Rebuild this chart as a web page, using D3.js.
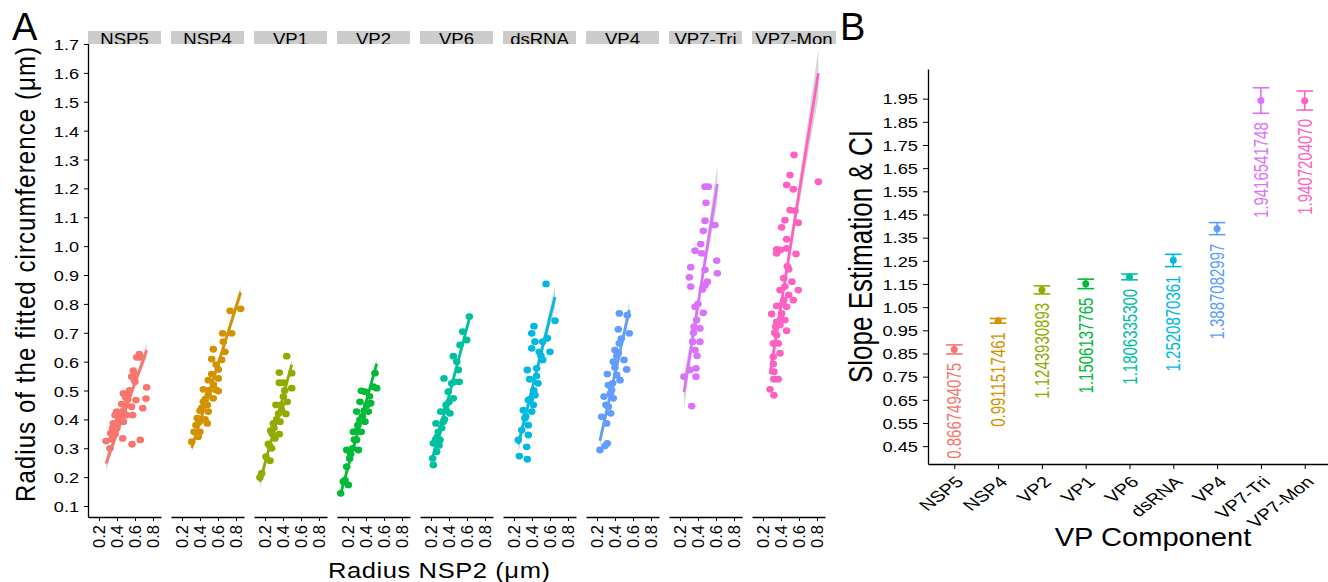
<!DOCTYPE html>
<html>
<head>
<meta charset="utf-8">
<title>Radius fits and slopes</title>
<script src="https://cdn.jsdelivr.net/npm/d3@7"></script>
<style>
  body { margin: 0; background: white; }
  svg { font-family: "Liberation Sans", Arial, sans-serif; }
</style>
</head>
<body>
<svg id="chart" width="1328" height="582"></svg>
<script>
// ---- data ----
const panels = ["NSP5", "NSP4", "VP1", "VP2", "VP6", "dsRNA", "VP4", "VP7-Tri", "VP7-Mon"];
const hue = ["#F8766D", "#D39200", "#93AA00", "#00BA38", "#00C19F", "#00B9E3", "#619CFF", "#DB72FB", "#FF61C3"];

const ptsNSP5 = [[0.648,0.626],[0.656,0.615],[0.619,0.615],[0.581,0.569],[0.600,0.557],[0.563,0.548],[0.589,0.539],[0.730,0.511],[0.722,0.472],[0.686,0.439],[0.471,0.490],[0.515,0.484],[0.497,0.476],[0.611,0.467],[0.452,0.453],[0.563,0.444],[0.397,0.427],[0.471,0.430],[0.378,0.415],[0.433,0.409],[0.574,0.415],[0.508,0.415],[0.359,0.386],[0.415,0.392],[0.471,0.392],[0.352,0.369],[0.397,0.369],[0.330,0.352],[0.378,0.349],[0.463,0.334],[0.278,0.325],[0.341,0.331],[0.567,0.314],[0.659,0.329],[0.322,0.300],[0.50,0.45],[0.42,0.40],[0.54,0.50],[0.45,0.41],[0.39,0.37],[0.60,0.53],[0.52,0.47]];
const ptsNSP4 = [[0.734,0.776],[0.852,0.783],[0.652,0.698],[0.752,0.698],[0.659,0.669],[0.548,0.643],[0.678,0.634],[0.530,0.609],[0.641,0.606],[0.604,0.573],[0.530,0.557],[0.604,0.542],[0.492,0.536],[0.437,0.504],[0.578,0.502],[0.492,0.484],[0.548,0.473],[0.437,0.461],[0.481,0.450],[0.400,0.430],[0.492,0.427],[0.370,0.404],[0.456,0.400],[0.356,0.380],[0.481,0.386],[0.333,0.357],[0.400,0.357],[0.308,0.323],[0.381,0.340],[0.604,0.498],[0.50,0.50],[0.55,0.52],[0.42,0.44],[0.58,0.59],[0.46,0.47],[0.39,0.39]];
const ptsVP1 = [[0.441,0.619],[0.359,0.562],[0.497,0.560],[0.359,0.527],[0.404,0.527],[0.497,0.508],[0.404,0.479],[0.448,0.461],[0.322,0.450],[0.385,0.432],[0.433,0.419],[0.293,0.386],[0.367,0.392],[0.263,0.361],[0.359,0.349],[0.311,0.334],[0.237,0.315],[0.274,0.300],[0.211,0.271],[0.256,0.257],[0.144,0.199],[0.163,0.213],[0.28,0.35],[0.33,0.40],[0.30,0.37],[0.38,0.45],[0.25,0.31],[0.42,0.50],[0.35,0.42]];
const ptsVP2 = [[0.500,0.560],[0.519,0.508],[0.348,0.499],[0.389,0.496],[0.333,0.461],[0.452,0.456],[0.296,0.427],[0.426,0.427],[0.333,0.398],[0.389,0.392],[0.259,0.357],[0.348,0.357],[0.296,0.329],[0.186,0.294],[0.315,0.294],[0.219,0.265],[0.186,0.236],[0.148,0.184],[0.204,0.173],[0.119,0.144],[0.167,0.190],[0.481,0.513],[0.27,0.33],[0.30,0.36],[0.36,0.41],[0.41,0.45],[0.23,0.28],[0.38,0.43],[0.31,0.38],[0.44,0.48],[0.25,0.30]];
const ptsVP6 = [[0.626,0.756],[0.552,0.704],[0.597,0.675],[0.522,0.658],[0.448,0.619],[0.486,0.600],[0.504,0.571],[0.344,0.542],[0.430,0.525],[0.514,0.530],[0.392,0.496],[0.448,0.473],[0.367,0.450],[0.308,0.427],[0.411,0.421],[0.256,0.386],[0.337,0.392],[0.281,0.357],[0.226,0.317],[0.300,0.329],[0.263,0.288],[0.219,0.265],[0.226,0.242],[0.27,0.34],[0.32,0.37],[0.29,0.31],[0.35,0.40],[0.25,0.33],[0.40,0.46],[0.46,0.53],[0.37,0.43]];
const ptsDsRNA = [[0.556,0.869],[0.656,0.742],[0.422,0.723],[0.397,0.698],[0.433,0.669],[0.570,0.681],[0.519,0.669],[0.397,0.646],[0.600,0.634],[0.481,0.634],[0.519,0.606],[0.348,0.571],[0.452,0.577],[0.374,0.539],[0.467,0.525],[0.433,0.484],[0.359,0.467],[0.415,0.450],[0.304,0.432],[0.397,0.427],[0.322,0.404],[0.359,0.380],[0.286,0.363],[0.359,0.346],[0.248,0.329],[0.341,0.305],[0.259,0.273],[0.348,0.262],[0.42,0.50],[0.45,0.55],[0.38,0.47],[0.50,0.62],[0.33,0.41]];
const ptsVP4 = [[0.448,0.767],[0.537,0.761],[0.437,0.712],[0.559,0.698],[0.448,0.663],[0.400,0.640],[0.437,0.629],[0.500,0.606],[0.381,0.600],[0.530,0.573],[0.315,0.557],[0.419,0.554],[0.374,0.525],[0.456,0.536],[0.326,0.519],[0.363,0.502],[0.278,0.479],[0.381,0.473],[0.326,0.444],[0.252,0.409],[0.352,0.421],[0.307,0.386],[0.233,0.294],[0.315,0.317],[0.289,0.308],[0.40,0.58],[0.35,0.49],[0.42,0.62],[0.30,0.45],[0.47,0.68]];
const ptsVP7Tri = [[0.478,1.206],[0.515,1.206],[0.489,1.150],[0.478,1.088],[0.589,1.073],[0.459,1.053],[0.430,1.007],[0.367,0.984],[0.441,0.975],[0.608,0.950],[0.319,0.927],[0.478,0.918],[0.615,0.906],[0.304,0.892],[0.504,0.877],[0.319,0.860],[0.478,0.865],[0.367,0.790],[0.459,0.769],[0.385,0.744],[0.356,0.721],[0.422,0.715],[0.341,0.669],[0.422,0.669],[0.367,0.640],[0.311,0.571],[0.378,0.577],[0.244,0.548],[0.378,0.548],[0.330,0.446],[0.40,0.80],[0.35,0.70],[0.45,0.85],[0.39,0.62]];
const ptsVP7Mon = [[0.545,1.316],[0.500,1.246],[0.815,1.223],[0.463,1.212],[0.537,1.197],[0.500,1.125],[0.556,1.123],[0.444,1.090],[0.592,1.081],[0.407,1.065],[0.463,1.024],[0.352,0.989],[0.396,0.987],[0.463,0.992],[0.567,0.973],[0.352,0.975],[0.485,0.920],[0.430,0.889],[0.522,0.877],[0.389,0.848],[0.444,0.860],[0.592,0.848],[0.485,0.831],[0.537,0.813],[0.430,0.813],[0.352,0.793],[0.463,0.790],[0.296,0.765],[0.407,0.767],[0.352,0.738],[0.444,0.744],[0.341,0.721],[0.389,0.727],[0.463,0.707],[0.352,0.692],[0.315,0.663],[0.370,0.663],[0.389,0.629],[0.315,0.617],[0.315,0.592],[0.322,0.565],[0.322,0.539],[0.370,0.539],[0.278,0.504],[0.322,0.484],[0.40,0.75],[0.33,0.70],[0.42,0.80],[0.47,0.93]];
const panelPoints = [ptsNSP5, ptsNSP4, ptsVP1, ptsVP2, ptsVP6, ptsDsRNA, ptsVP4, ptsVP7Tri, ptsVP7Mon];

const yTicksA = [0.1,0.2,0.3,0.4,0.5,0.6,0.7,0.8,0.9,1.0,1.1,1.2,1.3,1.4,1.5,1.6,1.7];
const xTicksA = [0.2, 0.4, 0.6, 0.8];

// panel B
const slopeCats = ["NSP5", "NSP4", "VP2", "VP1", "VP6", "dsRNA", "VP4", "VP7-Tri", "VP7-Mon"];
const slopeLabels = ["0.8667494075", "0.9911517461", "1.1243930893", "1.1506137765", "1.1806335300", "1.2520870361", "1.3887082997", "1.9416541748", "1.9407204070"];
const slopeLower = [0.848, 0.981, 1.107, 1.130, 1.168, 1.225, 1.363, 1.887, 1.901];
const slopeUpper = [0.887, 1.001, 1.142, 1.171, 1.193, 1.278, 1.415, 1.997, 1.983];
const yTicksB = [0.45,0.55,0.65,0.75,0.85,0.95,1.05,1.15,1.25,1.35,1.45,1.55,1.65,1.75,1.85,1.95];

// ---- drawing ----
const svg = d3.select("#chart");

function stretchText(g, x, y, k, rot, str, size) {
  return g.append("text")
    .attr("transform", `translate(${x},${y}) scale(${k},1) rotate(${rot})`)
    .attr("font-size", size)
    .text(str);
}

// panel A layout
const aLeft = 88, aStep = 83, aWidth = 73, aTop = 43, aBottom = 517;
const yA = d3.scaleLinear().domain([0.062, 1.7035]).range([aBottom, aTop]);
const xA = d3.scaleLinear().domain([0.078, 0.889]).range([0, aWidth]);

const yAxisA = svg.append("g")
  .attr("transform", `translate(${aLeft},0)`)
  .call(d3.axisLeft(yA).tickValues(yTicksA).tickSize(4).tickSizeOuter(0).tickFormat(d3.format(".1f")))
  .attr("font-size", null).attr("font-family", null);
yAxisA.select(".domain").attr("stroke-width", 1.3);
yAxisA.selectAll(".tick text")
  .attr("x", null).attr("dy", null)
  .attr("font-size", 15.5)
  .attr("transform", "translate(-9,5.5) scale(1.17,1)");

const clip = svg.append("defs").append("clipPath").attr("id", "stripclip");
clip.append("rect").attr("x", 0).attr("y", 31).attr("width", 1328).attr("height", 13);

panels.forEach((name, i) => {
  const pts = panelPoints[i];
  const col = hue[i];
  const g = svg.append("g").attr("transform", `translate(${aLeft + i * aStep},0)`);

  // points
  g.selectAll("ellipse").data(pts).enter().append("ellipse")
    .attr("cx", d => xA(d[0]))
    .attr("cy", d => yA(d[1]))
    .attr("rx", 3.8).attr("ry", 3.4)
    .attr("fill", col);

  // linear fit: slope from panel B, through the data mean
  const n = pts.length;
  const mx = d3.mean(pts, d => d[0]);
  const my = d3.mean(pts, d => d[1]);
  const b = +slopeLabels[slopeCats.indexOf(name)];
  const a = my - b * mx;
  const sxx = d3.sum(pts, d => (d[0] - mx) ** 2);
  const s = Math.sqrt(d3.sum(pts, d => (d[1] - a - b * d[0]) ** 2) / (n - 2));
  const [x0, x1] = d3.extent(pts, d => d[0]);
  const xs = d3.range(0, 41).map(k => x0 + (x1 - x0) * k / 40);
  const band = xs.map(x => {
    const se = 0.9 * s * Math.sqrt(1 / n + (x - mx) ** 2 / sxx);
    return { x: x, lo: a + b * x - se, hi: a + b * x + se };
  });
  g.append("path").datum(band)
    .attr("d", d3.area().x(d => xA(d.x)).y0(d => yA(d.lo)).y1(d => yA(d.hi)))
    .attr("fill", "#999999").attr("opacity", 0.4);
  g.append("line")
    .attr("x1", xA(x0)).attr("y1", yA(a + b * x0))
    .attr("x2", xA(x1)).attr("y2", yA(a + b * x1))
    .attr("stroke", col).attr("stroke-width", 2.8);

  // x axis
  const ax = g.append("g")
    .attr("transform", `translate(0,${aBottom})`)
    .call(d3.axisBottom(xA).tickValues(xTicksA).tickSize(4).tickSizeOuter(0).tickFormat(d3.format(".1f")))
    .attr("font-size", null).attr("font-family", null);
  ax.select(".domain").attr("stroke-width", 1.3);
  ax.selectAll(".tick text")
    .attr("y", null).attr("dy", null)
    .attr("font-size", 16.5)
    .attr("text-anchor", "end")
    .attr("transform", "translate(5.8,8) rotate(-90)");

  // strip
  const sw = i === panels.length - 1 ? 84 : aWidth;
  g.append("rect").attr("x", 0).attr("y", 31).attr("width", sw).attr("height", 13).attr("fill", "#CCCCCC");
  const st = g.append("g").attr("clip-path", "url(#stripclip)");
  stretchText(st, sw / 2, 44.8, 1.16, 0, name, 16).attr("text-anchor", "middle");
});

// panel A titles
stretchText(svg, 35, 274.5, 1.16, -90, "Radius of the fitted circumference (μm)", 24)
  .attr("text-anchor", "middle").attr("textLength", 455).attr("lengthAdjust", "spacing");
stretchText(svg, 439, 578, 1.16, 0, "Radius NSP2 (μm)", 22)
  .attr("text-anchor", "middle").attr("textLength", 222 / 1.16).attr("lengthAdjust", "spacing");
svg.append("text").attr("x", 12).attr("y", 40).attr("font-size", 38).text("A");

// panel B
const bLeft = 928, bTop = 69, bBottom = 464;
const yB = d3.scaleLinear().domain([0.373, 2.078]).range([bBottom, bTop]);
const xB = d3.scalePoint().domain(slopeCats).range([bLeft, 1331]).padding(0.6);

const yAxisB = svg.append("g")
  .attr("transform", `translate(${bLeft},0)`)
  .call(d3.axisLeft(yB).tickValues(yTicksB).tickSize(5).tickSizeOuter(0).tickFormat(d3.format(".2f")))
  .attr("font-size", null).attr("font-family", null);
yAxisB.select(".domain").attr("stroke-width", 1.3);
yAxisB.selectAll(".tick text")
  .attr("x", null).attr("dy", null)
  .attr("font-size", 14.4)
  .attr("transform", "translate(-10,5.2) scale(1.27,1)");

const xAxisB = svg.append("g")
  .attr("transform", `translate(0,${bBottom})`)
  .call(d3.axisBottom(xB).tickSize(5).tickSizeOuter(0))
  .attr("font-size", null).attr("font-family", null);
xAxisB.select(".domain").attr("stroke-width", 1.3);
xAxisB.selectAll(".tick text")
  .attr("y", null).attr("dy", null)
  .attr("font-size", 15.5)
  .attr("text-anchor", "end")
  .attr("transform", "translate(10,19) scale(1.3,1) rotate(-45)");

const est = slopeLabels.map(Number);
const gB = svg.append("g");
slopeCats.forEach((c, i) => {
  const cx = xB(c), col = hue[i];
  gB.append("line").attr("x1", cx).attr("x2", cx)
    .attr("y1", yB(slopeUpper[i])).attr("y2", yB(slopeLower[i]))
    .attr("stroke", col).attr("stroke-width", 1.6);
  [slopeUpper[i], slopeLower[i]].forEach(v => {
    gB.append("line").attr("x1", cx - 8.3).attr("x2", cx + 8.3)
      .attr("y1", yB(v)).attr("y2", yB(v))
      .attr("stroke", col).attr("stroke-width", 1.6);
  });
  gB.append("circle").attr("cx", cx).attr("cy", yB(est[i])).attr("r", 3.5).attr("fill", col);
  stretchText(gB, cx + 7, yB(slopeLower[i]) + 9, 1.3, -90, slopeLabels[i], 15)
    .attr("text-anchor", "end").attr("fill", col);
});

stretchText(svg, 871.5, 256.5, 1.25, -90, "Slope Estimation & CI", 26)
  .attr("text-anchor", "middle").attr("textLength", 253).attr("lengthAdjust", "spacing");
stretchText(svg, 1153, 546, 1.14, 0, "VP Component", 25.5)
  .attr("text-anchor", "middle");
svg.append("text").attr("x", 840).attr("y", 40).attr("font-size", 38).text("B");
</script>
</body>
</html>
